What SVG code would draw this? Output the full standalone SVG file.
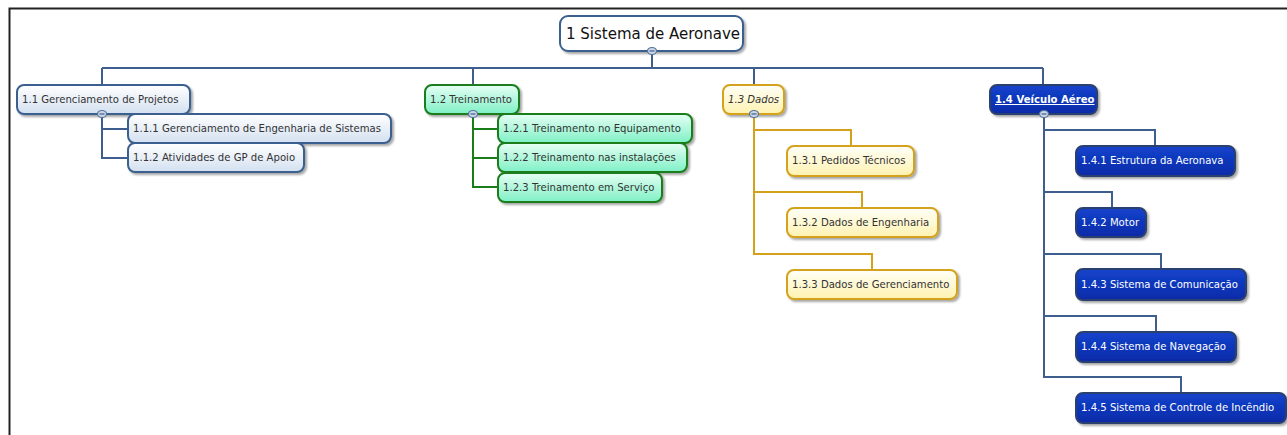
<svg xmlns="http://www.w3.org/2000/svg" width="1287" height="435" viewBox="0 0 1287 435">
<style>
text{font-family:"DejaVu Sans","Verdana",sans-serif;font-size:10.1px;fill:#333}
.root text{font-size:15px;fill:#111}
.blue text{fill:#fff}
.cb{stroke:#3e5f8e;stroke-width:2;fill:none}
.cg{stroke:#1a7d1a;stroke-width:2;fill:none}
.cy{stroke:#d4a21a;stroke-width:2;fill:none}
.nb rect{fill:url(#gb);stroke:#3a5f8f;stroke-width:2}
.ng rect{fill:url(#gg);stroke:#1a7d1a;stroke-width:2}
.ny rect{fill:url(#gy);stroke:#d4a21a;stroke-width:2}
.blue rect{fill:url(#gd);stroke:#2b3f6e;stroke-width:2}
.root rect{fill:#fff;stroke:#3a5f8f;stroke-width:2}
.tg{fill:#c9d6e8;stroke:#56739b;stroke-width:1.2}
.tm{stroke:#3e5f8e;stroke-width:1.2}
</style>
<defs>
<linearGradient id="gb" x1="0" y1="0" x2="0" y2="1"><stop offset="0" stop-color="#ffffff"/><stop offset="1" stop-color="#d3e0f0"/></linearGradient>
<linearGradient id="gg" x1="0" y1="0" x2="0" y2="1"><stop offset="0" stop-color="#e6fff4"/><stop offset="1" stop-color="#7ff0c6"/></linearGradient>
<linearGradient id="gy" x1="0" y1="0" x2="0" y2="1"><stop offset="0" stop-color="#fffff8"/><stop offset="1" stop-color="#fff2b0"/></linearGradient>
<linearGradient id="gd" x1="0" y1="0" x2="0" y2="1"><stop offset="0" stop-color="#1443cc"/><stop offset="1" stop-color="#0a2aa8"/></linearGradient>
<filter id="sh" x="-10%" y="-20%" width="130%" height="160%"><feDropShadow dx="2" dy="2" stdDeviation="1.2" flood-color="#000" flood-opacity="0.35"/></filter>
</defs>
<rect width="1287" height="435" fill="#fff"/>
<path d="M9.5 435V8.5H1287" stroke="#222" stroke-width="2" fill="none"/>
<g id="connectors">
<path class="cb" d="M652 51V68M102 68H1043M102 68V85M473 68V85M754 68V85M1043 68V85"/>
<path class="cb" d="M102 114V158H128M102 129H128"/>
<path class="cg" d="M473 114V187H498M473 129H498M473 158H498"/>
<path class="cy" d="M754 114V254H872V270M754 130H851V146M754 192H862V208"/>
<path class="cb" d="M1044 114V377H1181V393M1044 130H1155V146M1044 192H1112V208M1044 254H1161V269M1044 316H1156V332"/>
</g>
<g id="n1" class="root"><rect x="560" y="16" width="183" height="35" rx="8" filter="url(#sh)"/><text x="566" y="39">1 Sistema de Aeronave</text></g>
<g id="n1_1" class="nb"><rect x="17" y="85" width="173" height="29" rx="7" filter="url(#sh)"/><text x="22" y="103">1.1 Gerenciamento de Projetos</text></g>
<g id="n1_1_1" class="nb"><rect x="128" y="114" width="263" height="29" rx="7" filter="url(#sh)"/><text x="133" y="132">1.1.1 Gerenciamento de Engenharia de Sistemas</text></g>
<g id="n1_1_2" class="nb"><rect x="128" y="143" width="176" height="29" rx="7" filter="url(#sh)"/><text x="133" y="161">1.1.2 Atividades de GP de Apoio</text></g>
<g id="n1_2" class="ng"><rect x="425" y="85" width="94" height="29" rx="7" filter="url(#sh)"/><text x="430" y="103">1.2 Treinamento</text></g>
<g id="n1_2_1" class="ng"><rect x="498" y="114" width="194" height="29" rx="7" filter="url(#sh)"/><text x="503" y="132">1.2.1 Treinamento no Equipamento</text></g>
<g id="n1_2_2" class="ng"><rect x="498" y="143" width="189" height="29" rx="7" filter="url(#sh)"/><text x="503" y="161">1.2.2 Treinamento nas instalações</text></g>
<g id="n1_2_3" class="ng"><rect x="498" y="173" width="164" height="29" rx="7" filter="url(#sh)"/><text x="503" y="191">1.2.3 Treinamento em Serviço</text></g>
<g id="n1_3" class="ny"><rect x="723" y="85" width="61" height="29" rx="7" filter="url(#sh)"/><text x="728" y="103" font-style="italic">1.3 Dados</text></g>
<g id="n1_3_1" class="ny"><rect x="787" y="146" width="127" height="30" rx="7" filter="url(#sh)"/><text x="792" y="164">1.3.1 Pedidos Técnicos</text></g>
<g id="n1_3_2" class="ny"><rect x="787" y="208" width="151" height="29" rx="7" filter="url(#sh)"/><text x="792" y="226">1.3.2 Dados de Engenharia</text></g>
<g id="n1_3_3" class="ny"><rect x="787" y="270" width="170" height="29" rx="7" filter="url(#sh)"/><text x="792" y="288">1.3.3 Dados de Gerenciamento</text></g>
<g id="n1_4" class="blue"><rect x="990" y="85" width="107" height="29" rx="7" filter="url(#sh)"/><text x="995" y="103" font-weight="bold" text-decoration="underline">1.4 Veículo Aéreo</text></g>
<g id="n1_4_1" class="blue"><rect x="1076" y="146" width="159" height="30" rx="7" filter="url(#sh)"/><text x="1081" y="164">1.4.1 Estrutura da Aeronava</text></g>
<g id="n1_4_2" class="blue"><rect x="1076" y="208" width="70" height="29" rx="7" filter="url(#sh)"/><text x="1081" y="226">1.4.2 Motor</text></g>
<g id="n1_4_3" class="blue"><rect x="1076" y="269" width="170" height="31" rx="7" filter="url(#sh)"/><text x="1081" y="288">1.4.3 Sistema de Comunicação</text></g>
<g id="n1_4_4" class="blue"><rect x="1076" y="332" width="160" height="30" rx="7" filter="url(#sh)"/><text x="1081" y="350">1.4.4 Sistema de Navegação</text></g>
<g id="n1_4_5" class="blue"><rect x="1076" y="393" width="210" height="30" rx="7" filter="url(#sh)"/><text x="1081" y="411">1.4.5 Sistema de Controle de Incêndio</text></g>
<g id="toggles">
<ellipse class="tg" cx="652" cy="51" rx="4.5" ry="3.5"/><path class="tm" d="M649.5 51H654.5"/>
<ellipse class="tg" cx="102" cy="114" rx="4.5" ry="3.5"/><path class="tm" d="M99.5 114H104.5"/>
<ellipse class="tg" cx="473" cy="114" rx="4.5" ry="3.5"/><path class="tm" d="M470.5 114H475.5"/>
<ellipse class="tg" cx="754" cy="114" rx="4.5" ry="3.5"/><path class="tm" d="M751.5 114H756.5"/>
<ellipse class="tg" cx="1044" cy="114" rx="4.5" ry="3.5"/><path class="tm" d="M1041.5 114H1046.5"/>
</g>
</svg>
